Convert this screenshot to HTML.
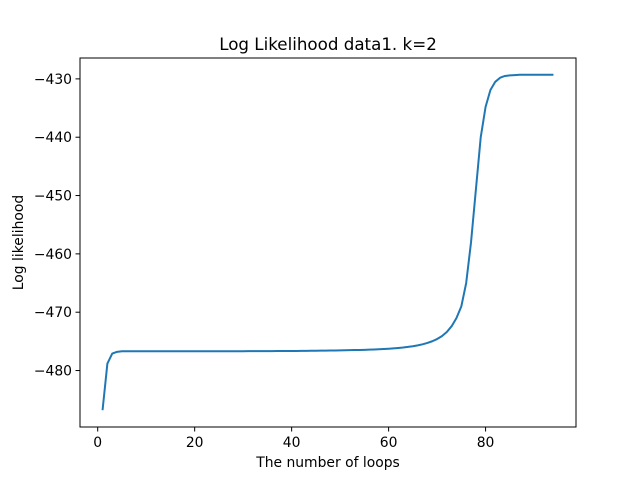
<!DOCTYPE html>
<html><head><meta charset="utf-8"><style>
body{margin:0;background:#fff;}
svg{display:block;font-family:"DejaVu Sans","Liberation Sans",sans-serif;}
</style></head><body>
<svg id="chart" width="640" height="480"></svg>
<script>
const loops = [];
for (let i = 1; i <= 94; i++) loops.push(i);
const logLik = [
-486.8,-478.8,-477.1,-476.8,-476.7,-476.7,-476.7,-476.7,-476.7,-476.7,
-476.7,-476.7,-476.7,-476.7,-476.7,-476.7,-476.7,-476.7,-476.7,-476.7,
-476.7,-476.7,-476.7,-476.7,-476.7,-476.7,-476.7,-476.7,-476.7,-476.7,
-476.68,-476.68,-476.68,-476.67,-476.67,-476.67,-476.66,-476.66,-476.65,-476.65,
-476.64,-476.63,-476.62,-476.61,-476.6,-476.59,-476.58,-476.57,-476.56,-476.55,
-476.53,-476.51,-476.49,-476.47,-476.45,-476.42,-476.39,-476.35,-476.31,-476.26,
-476.2,-476.13,-476.05,-475.95,-475.83,-475.68,-475.5,-475.27,-474.98,-474.6,
-474.1,-473.4,-472.4,-471,-469,-465,-458,-449,-440,-434.8,
-431.9,-430.5,-429.8,-429.5,-429.4,-429.35,-429.3,-429.3,-429.3,-429.3,
-429.3,-429.3,-429.3,-429.3
];
const xTicks = [0,20,40,60,80];
const yTicks = [-480,-470,-460,-450,-440,-430];

const L=80,R=576,T=58,B=427;
const xmin=-3.65,xmax=98.65,ymin=-489.68,ymax=-426.42;
const sx=v=>L+(v-xmin)/(xmax-xmin)*(R-L);
const sy=v=>B-(v-ymin)/(ymax-ymin)*(B-T);
const svg=document.getElementById('chart');
const NS='http://www.w3.org/2000/svg';
function mk(tag,attrs,text){const e=document.createElementNS(NS,tag);for(const k in attrs)e.setAttribute(k,attrs[k]);if(text!==undefined)e.textContent=text;svg.appendChild(e);return e;}

let d='';
loops.forEach((x,i)=>{d+=(i?'L':'M')+sx(x).toFixed(2)+','+sy(logLik[i]).toFixed(2);});
const line=mk('path',{d:d,fill:'none',stroke:'#1f77b4','stroke-width':2,'stroke-linejoin':'round'});



const frame=mk('rect',{x:L,y:T,width:R-L,height:B-T,fill:'none',stroke:'#000','stroke-width':1});



xTicks.forEach(t=>{
  const x=sx(t);
  const tk=mk('line',{x1:x,x2:x,y1:B,y2:B+4.5,stroke:'#000','stroke-width':1});
  
  
  const lb=mk('text',{x:x,y:B+20,'font-size':13.9,'text-anchor':'middle'},String(t));
  
  
});
yTicks.forEach(t=>{
  const y=sy(t);
  const tk=mk('line',{x1:L-4.5,x2:L,y1:y,y2:y,stroke:'#000','stroke-width':1});
  
  
  const lb=mk('text',{x:L-8,y:y+5,'font-size':13.9,'text-anchor':'end'},'\u2212'+Math.abs(t));
  
  
});
const title=mk('text',{x:(L+R)/2,y:50,'font-size':16.7,'text-anchor':'middle'},'Log Likelihood data1. k=2');


const xl=mk('text',{x:(L+R)/2,y:467,'font-size':13.9,'text-anchor':'middle'},'The number of loops');


const yl=mk('text',{x:23,y:(T+B)/2,'font-size':13.9,'text-anchor':'middle',transform:'rotate(-90 23 '+((T+B)/2)+')'},'Log likelihood');


</script>
</body></html>
